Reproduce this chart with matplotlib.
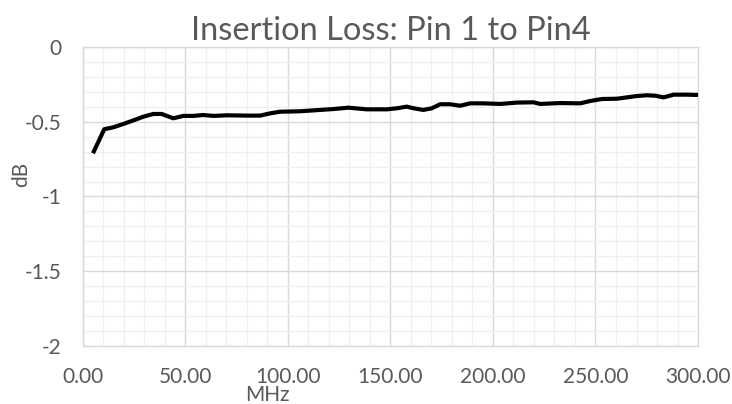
import matplotlib
matplotlib.use("Agg")
import matplotlib.pyplot as plt
from matplotlib.ticker import MultipleLocator, FormatStrFormatter

freq_mhz = [5, 10.5, 15, 19.8, 23.9, 29.6, 34.4, 38.5, 41, 44.2, 49, 54, 58.8, 63.7, 70.2,
            80, 86.5, 91.4, 96.2, 106, 115.8, 122.3, 129.6, 138.5, 148.3, 153.2, 158,
            161.3, 166.1, 170.2, 174.3, 179.1, 184, 188.9, 195.4, 203.5, 211.7, 219.8,
            223, 232.8, 242.6, 247.5, 253.2, 260.5, 265.4, 270.2, 275.1, 279.2, 283.2,
            288.1, 294.6, 300]
loss_db = [-0.711, -0.55, -0.537, -0.515, -0.495, -0.466, -0.448, -0.448, -0.461, -0.477,
           -0.461, -0.461, -0.455, -0.461, -0.457, -0.459, -0.459, -0.444, -0.433, -0.43,
           -0.421, -0.415, -0.406, -0.417, -0.417, -0.41, -0.399, -0.41, -0.421, -0.41,
           -0.383, -0.383, -0.393, -0.377, -0.377, -0.381, -0.372, -0.37, -0.381, -0.375,
           -0.377, -0.361, -0.348, -0.346, -0.337, -0.328, -0.323, -0.326, -0.337, -0.319,
           -0.319, -0.321]

title = "Insertion Loss: Pin 1 to Pin4"
x_label = "MHz"
y_label = "dB"

plt.rcParams['font.family'] = ['Lato', 'DejaVu Sans']
txt = '#595959'

fig = plt.figure(figsize=(7.32, 4.04), dpi=100)
ax = fig.add_axes([0.113, 0.1436, 0.8406, 0.7401])

ax.plot(freq_mhz, loss_db, color='black', linewidth=3, solid_capstyle='butt',
        solid_joinstyle='round', zorder=3)

ax.set_xlim(0, 300)
ax.set_ylim(-2, 0)
ax.xaxis.set_major_locator(MultipleLocator(50))
ax.xaxis.set_minor_locator(MultipleLocator(10))
ax.yaxis.set_major_locator(MultipleLocator(0.5))
ax.yaxis.set_minor_locator(MultipleLocator(0.1))
ax.xaxis.set_major_formatter(FormatStrFormatter('%.2f'))
ax.yaxis.set_major_formatter(plt.FuncFormatter(lambda v, p: ('%g' % v) if v != 0 else '0'))

ax.grid(which='major', color='#d9d9d9', linewidth=1.0, zorder=1)
ax.grid(which='minor', color='#f0f0f0', linewidth=1.0, zorder=0)
ax.set_axisbelow(True)
for s in ax.spines.values():
    s.set_color('#d9d9d9')
    s.set_linewidth(1.0)

ax.tick_params(which='both', length=0)
ax.tick_params(axis='y', pad=15.5, labelsize=15, labelcolor=txt)
ax.tick_params(axis='x', pad=15, labelsize=15, labelcolor=txt)

ax.set_title(title, fontsize=23.5, color=txt, pad=5)
fig.text(0.3654, 0.0074, x_label, ha='center', va='baseline', fontsize=15, color=txt)
fig.text(0.029, 0.568, y_label, ha='center', va='center', rotation=90, fontsize=15, color=txt)

fig.savefig('out.png', dpi=100)
